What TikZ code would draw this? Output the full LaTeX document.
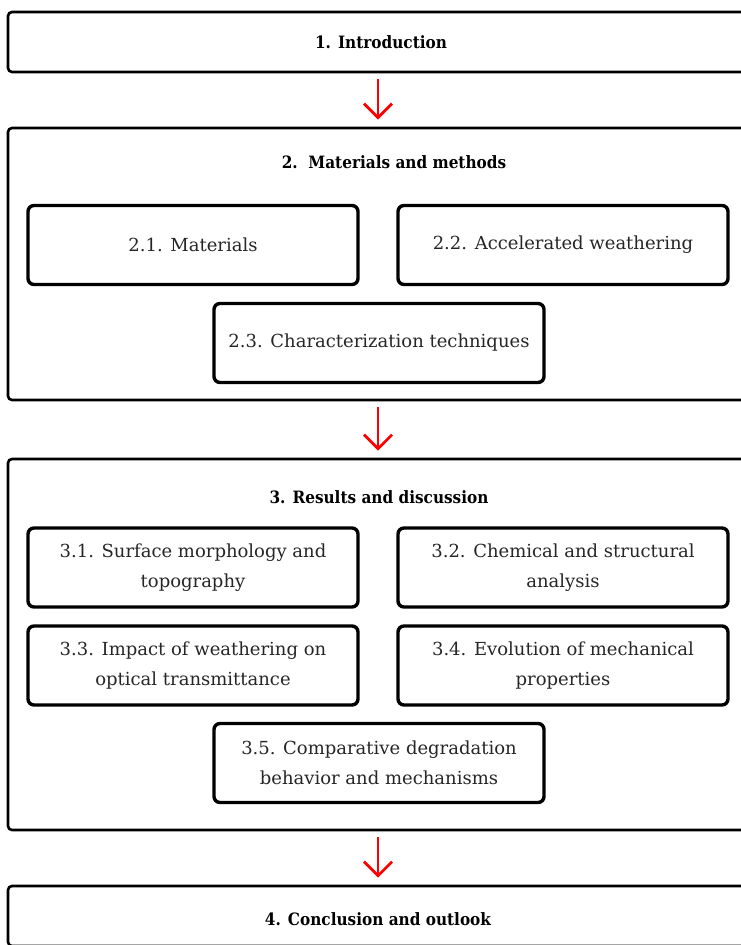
\documentclass[tikz,border=0pt]{standalone}
\usepackage{fontspec}
\setmainfont{DejaVu Serif}
\newfontfamily\headfont{DejaVu Serif Condensed}
\usepackage{tikz}
\usetikzlibrary{arrows.meta}

\begin{document}
\begin{tikzpicture}[x=1pt,y=-1pt,
 outer/.style={draw,line width=2.6pt,rounded corners=4pt,minimum width=740pt,inner sep=0pt},
 sub/.style={draw,line width=3.4pt,rounded corners=6pt,minimum width=330pt,minimum height=79pt,
  inner sep=0pt,align=center,font=\fontsize{18}{30}\selectfont,text=black!85},
 head/.style={font=\headfont\fontsize{17}{22}\selectfont\bfseries},
 flow/.style={draw=red,line width=2.2pt,-{Straight Barb[length=14pt,width=28pt,line width=2.8pt]},
  shorten <=6pt,shorten >=7pt}]
 \useasboundingbox (0,0) rectangle (741,945);

 \node[outer,minimum height=60pt] (intro) at (378,42) {};
 \node[head] (introtitle) at (381,42) {1. Introduction};

 \node[outer,minimum height=272pt] (meth) at (378,264) {};
 \node[head] (methtitle) at (394,162) {2.\ \ Materials and methods};
 \node[sub] (mat) at (193,245) {2.1. Materials};
 \node[sub] (weath) at (563,245) {2.2. Accelerated weathering};
 \node[sub] (char) at (379,343) {2.3. Characterization techniques};

 \node[outer,minimum height=371pt] (res) at (378,644.5) {};
 \node[head] (restitle) at (379,497) {3. Results and discussion};
 \node[sub] (morph) at (193,567.5) {3.1. Surface morphology and\\topography};
 \node[sub] (chem) at (563,567.5) {3.2. Chemical and structural\\analysis};
 \node[sub] (optic) at (193,665.5) {3.3. Impact of weathering on\\optical transmittance};
 \node[sub] (mech) at (563,665.5) {3.4. Evolution of mechanical\\properties};
 \node[sub] (degr) at (379,763) {3.5. Comparative degradation\\behavior and mechanisms};

 \node[outer,minimum height=60pt] (concl) at (378,916) {};
 \node[head] (concltitle) at (378,919) {4. Conclusion and outlook};

 \draw[flow] (intro) -- (meth);
 \draw[flow] (meth) -- (res);
 \draw[flow] (res) -- (concl);
\end{tikzpicture}
\end{document}
